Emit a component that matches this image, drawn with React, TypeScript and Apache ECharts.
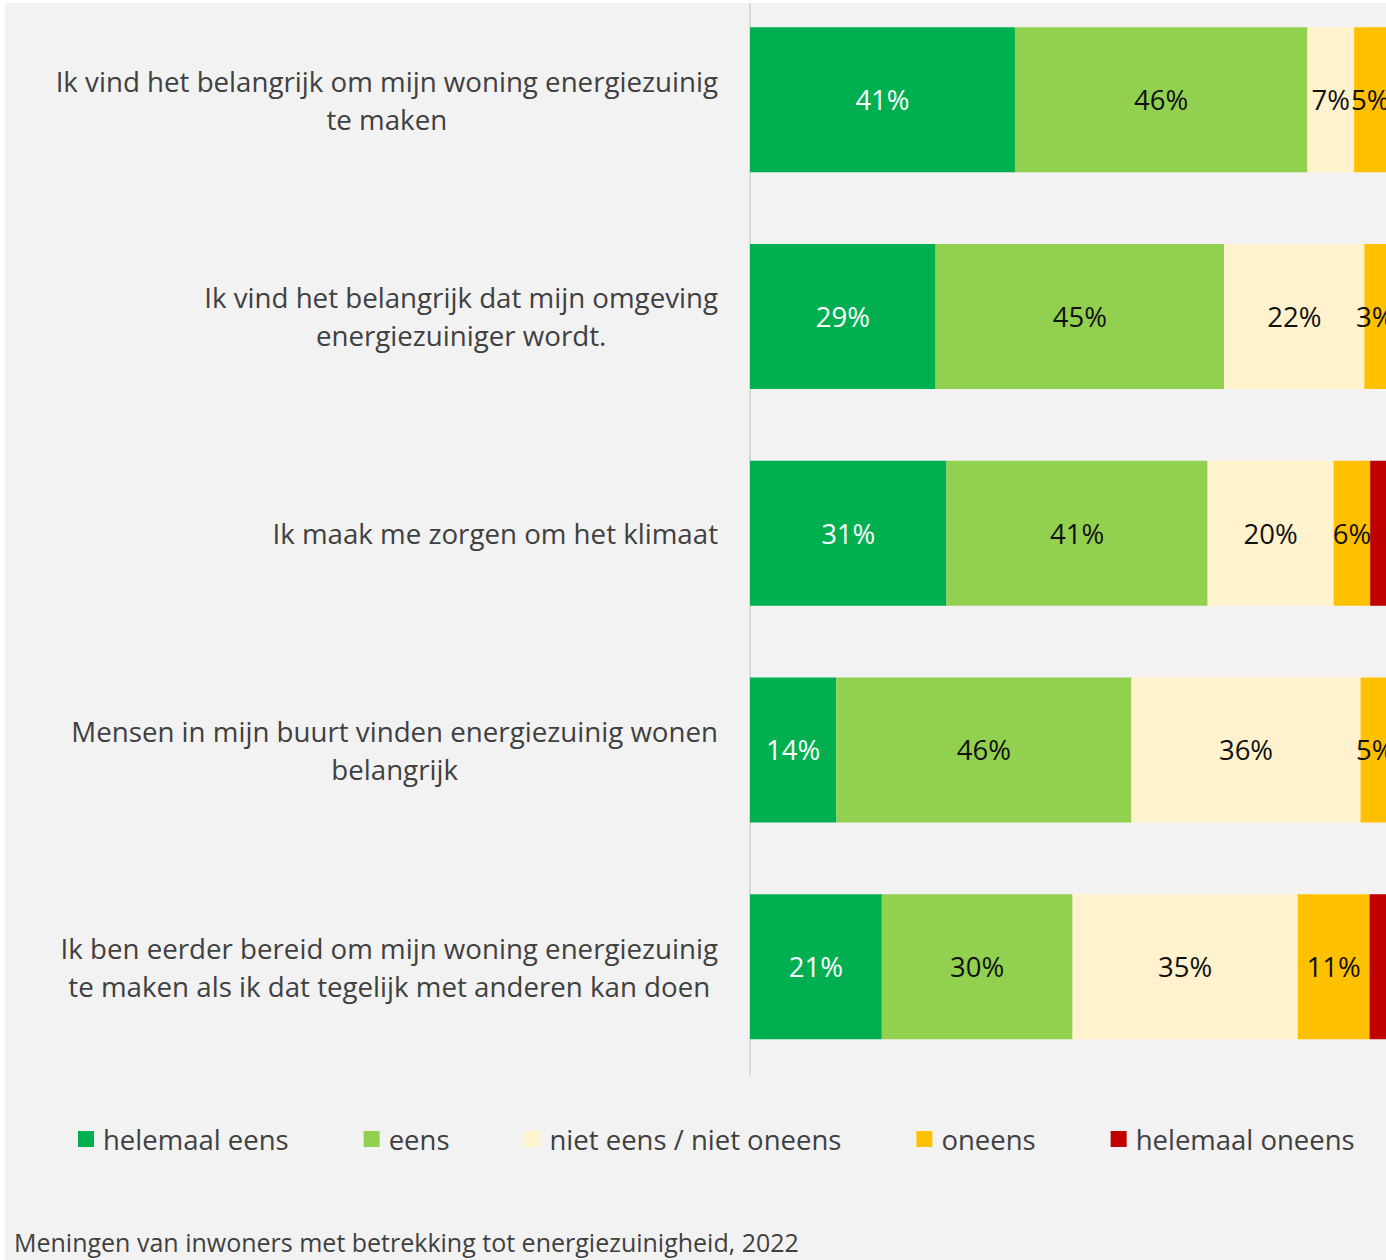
import React, { useEffect, useRef } from "react";
import * as echarts from "echarts";

const categories = [
  "Ik vind het belangrijk om mijn woning energiezuinig\nte maken",
  "Ik vind het belangrijk dat mijn omgeving\nenergiezuiniger wordt.",
  "Ik maak me zorgen om het klimaat",
  "Mensen in mijn buurt vinden energiezuinig wonen\nbelangrijk",
  "Ik ben eerder bereid om mijn woning energiezuinig\nte maken als ik dat tegelijk met anderen kan doen",
];

const seriesNames = [
  "helemaal eens",
  "eens",
  "niet eens / niet oneens",
  "oneens",
  "helemaal oneens",
];

// percentages (labels show them rounded)
const helemaalEens = [41.4, 29.0, 30.7, 13.5, 20.6];
const eens = [45.7, 45.1, 40.8, 46.1, 29.8];
const neutraal = [7.3, 21.9, 19.7, 35.8, 35.2];
const oneens = [5.0, 3.4, 5.7, 4.6, 11.2];
const helemaalOneens = [0.6, 0.6, 3.1, 0, 3.2];

const colors = ["#00b050", "#92d050", "#fff2cc", "#ffc000", "#c00000"];
const labelColors = ["#ffffff", "#111111", "#111111", "#111111", "#111111"];

const footnote = "Meningen van inwoners met betrekking tot energiezuinigheid, 2022";

const FONT = "'Open Sans', 'Noto Sans', sans-serif";
const OFF = 20; // chart div is shifted up by this many pixels

export default function App() {
  const ref = useRef<HTMLDivElement>(null);

  useEffect(() => {
    if (!ref.current) return;
    document.body.style.margin = "0";
    const chart = echarts.init(ref.current, null, { renderer: "svg" });
    const dataSets = [helemaalEens, eens, neutraal, oneens, helemaalOneens];

    chart.setOption({
      animation: false,
      backgroundColor: "#ffffff",
      graphic: [
        {
          type: "rect",
          z: -10,
          silent: true,
          shape: { x: 5, y: 3 + OFF, width: 1400, height: 1300 },
          style: { fill: "#f2f2f2" },
        },
        {
          type: "rect",
          z: 100,
          silent: true,
          shape: { x: 0, y: 0, width: 1400, height: 3 + OFF },
          style: { fill: "#ffffff" },
        },
      ],
      title: {
        text: footnote,
        left: 14,
        top: 1229 + OFF,
        padding: 0,
        textStyle: {
          fontFamily: FONT,
          fontSize: 25,
          fontWeight: "normal",
          color: "#404040",
        },
      },
      legend: {
        left: 78,
        top: 1125 + OFF,
        padding: 0,
        itemGap: 75,
        itemWidth: 16,
        itemHeight: 16,
        icon: "rect",
        data: seriesNames,
        textStyle: {
          fontFamily: FONT,
          fontSize: 27.5,
          color: "#404040",
          padding: [0, 0, 0, 4],
        },
      },
      grid: {
        left: 750,
        width: 640,
        top: -8.75 + OFF,
        bottom: 185,
        containLabel: false,
      },
      xAxis: {
        type: "value",
        min: 0,
        max: 100,
        show: false,
      },
      yAxis: {
        type: "category",
        inverse: true,
        data: categories,
        axisLine: { show: true, lineStyle: { color: "#d9d9d9", width: 2 } },
        axisTick: { show: false },
        axisLabel: {
          margin: 32,
          align: "right",
          formatter: (v: string) =>
            v
              .split("\n")
              .map((l) => `{c|${l}}`)
              .join("\n"),
          rich: {
            c: {
              align: "center",
              fontFamily: FONT,
              fontSize: 27.7,
              color: "#404040",
              lineHeight: 38,
            },
          },
        },
      },
      series: seriesNames.map((name, i) => ({
        name,
        type: "bar",
        stack: "total",
        barWidth: 145,
        data: dataSets[i],
        itemStyle: { color: colors[i] },
        label: {
          show: i < 4,
          position: "inside",
          fontFamily: FONT,
          fontSize: 27.5,
          color: labelColors[i],
          formatter: (p: any) => (p.value > 0 ? `${Math.round(p.value)}%` : ""),
        },
      })),
    });

    return () => chart.dispose();
  }, []);

  return (
    <div
      style={{
        position: "absolute",
        left: 0,
        top: 0,
        width: 1386,
        height: 1260,
        overflow: "hidden",
      }}
    >
      <div
        ref={ref}
        style={{ position: "absolute", left: 0, top: -OFF, width: 1400, height: 1260 + OFF }}
      />
    </div>
  );
}
